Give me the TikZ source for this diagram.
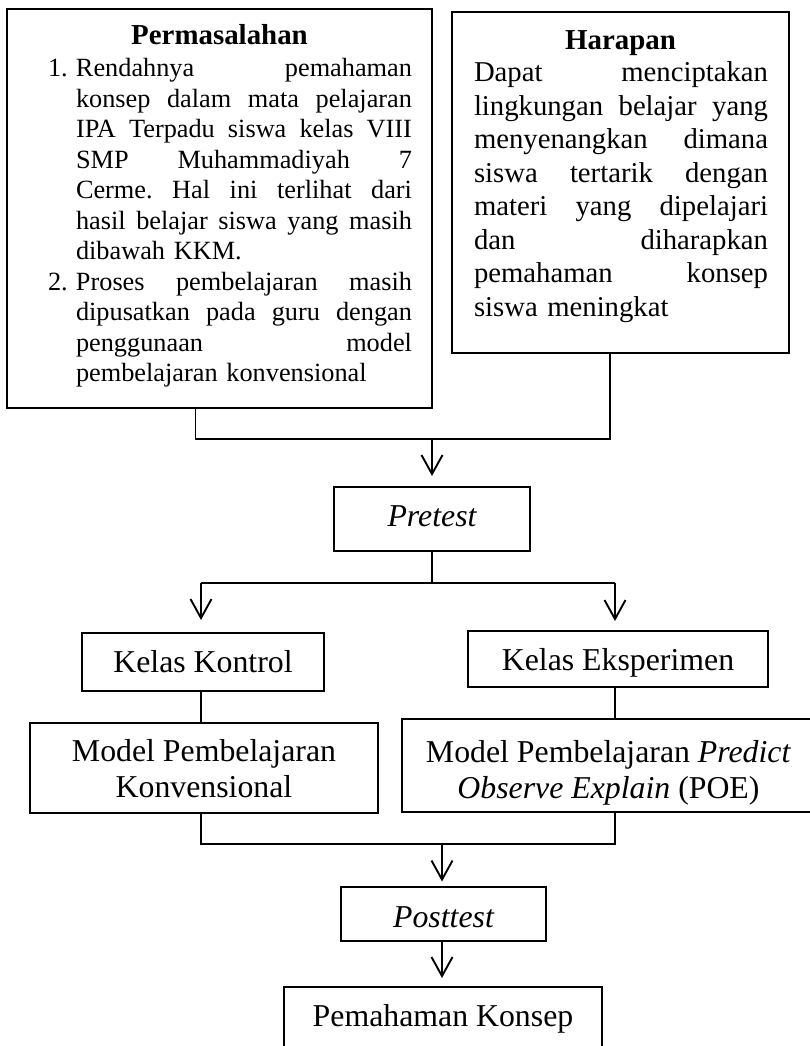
\documentclass[tikz,border=0pt]{standalone}
\usepackage{fontspec}
\setmainfont{Liberation Serif}
\usetikzlibrary{arrows.meta}
\frenchspacing
\newcommand{\fsBody}{\fontsize{26.3}{30.5}\selectfont}
\newcommand{\fsHar}{\fontsize{28.7}{33.5}\selectfont}
\newcommand{\fsTitle}{\fontsize{28.9}{33}\selectfont\bfseries}
\newcommand{\fsLow}{\fontsize{31.8}{36}\selectfont}
\newcommand{\jl}[1]{\leavevmode\hbox to 336pt{\spaceskip=0.25em plus 1fil\relax #1}}
\newcommand{\jh}[1]{\leavevmode\hbox to 294pt{\spaceskip=0.25em plus 1fil\relax #1}}
\newcommand{\ind}{\hspace*{28pt}}
\newcommand{\itemnum}[1]{\makebox[28pt][l]{#1}}
\begin{document}
\begin{tikzpicture}[x=1pt,y=-1pt,
  box/.style={draw=black, line width=1.7pt, rectangle, inner sep=0pt, outer sep=0pt},
  conn/.style={draw=black, line width=1.9pt},
  arr/.style={conn, -{Straight Barb[length=19pt,width=21pt]}},
  low/.style={font=\fsLow, align=center},
  txt/.style={inner sep=0pt, outer sep=0pt}]
\fill[white] (0,0) rectangle (810,1046);
\useasboundingbox (0,0) rectangle (810,1046);

% top boxes
\node[box, minimum width=425pt, minimum height=399pt] (perm) at (219.5,208.5) {};
\node[box, minimum width=337pt, minimum height=341pt] (harp) at (620.5,182.2) {};
\node[txt, font=\fsTitle, anchor=base] (permtitle) at (219.5,45) {Permasalahan};
\node[txt, font=\fsTitle, anchor=base] (harptitle) at (620.5,50) {Harapan};
\node[txt, font=\fsBody, anchor=base west, text width=364pt, align=left] (permlist) at (48,77) {%
\itemnum{1.}\jl{Rendahnya pemahaman}\\
\ind\jl{konsep dalam mata pelajaran}\\
\ind\jl{IPA Terpadu siswa kelas VIII}\\
\ind\jl{SMP Muhammadiyah 7}\\
\ind\jl{Cerme. Hal ini terlihat dari}\\
\ind\jl{hasil belajar siswa yang masih}\\
\ind dibawah KKM.\\
\itemnum{2.}\jl{Proses pembelajaran masih}\\
\ind\jl{dipusatkan pada guru dengan}\\
\ind\jl{penggunaan model}\\
\ind pembelajaran konvensional};
\node[txt, font=\fsHar, anchor=base west, text width=294pt, align=left] (harptext) at (474,82) {%
\jh{Dapat menciptakan}\\
\jh{lingkungan belajar yang}\\
\jh{menyenangkan dimana}\\
\jh{siswa tertarik dengan}\\
\jh{materi yang dipelajari}\\
\jh{dan diharapkan}\\
\jh{pemahaman konsep}\\
siswa meningkat};

% lower boxes
\node[box, low, font=\fsLow\itshape, minimum width=196pt, minimum height=64pt, text height=14pt, text depth=0pt] (pre) at (432,519) {Pretest};
\node[box, low, minimum width=242pt, minimum height=58pt, text height=20pt, text depth=0pt] (kk) at (203,662) {Kelas Kontrol};
\node[box, low, minimum width=300pt, minimum height=56pt, text height=22pt, text depth=0pt] (ke) at (618,659) {Kelas Eksperimen};
\node[box, low, minimum width=348pt, minimum height=90pt] (mk) at (204,768) {\rule{0pt}{24pt}Model Pembelajaran\\Konvensional};
\node[box, low, minimum width=413pt, minimum height=93pt] (poe) at (608.5,765.5) {\rule{0pt}{36pt}Model Pembelajaran \textit{Predict}\\\textit{Observe Explain} (POE)};
\node[box, low, font=\fsLow\itshape, minimum width=205pt, minimum height=54pt, text height=26pt, text depth=0pt] (post) at (443.5,914) {Posttest};
\node[box, low, minimum width=318pt, minimum height=66pt, text height=12pt, text depth=0pt] (pem) at (443,1020) {Pemahaman Konsep};

% connectors
\coordinate (jl) at (195.5,439);
\coordinate (jr) at (610,439);
\coordinate (jm) at (432,439);
\draw[conn] (jl |- perm.south) -- (jl) -- (jr) -- (jr |- harp.south);
\draw[arr, shorten >=11pt] (jm) -- (jm |- pre.north);

\coordinate (bl) at (201,583);
\coordinate (br) at (615,583);
\draw[conn] (pre.south) -- (pre.south |- bl);
\draw[conn] (bl) -- (br);
\draw[arr, shorten >=13pt] (bl) -- (bl |- kk.north);
\draw[arr, shorten >=10pt] (br) -- (br |- ke.north);
\draw[conn] (bl |- kk.south) -- (bl |- mk.north);
\draw[conn] (br |- ke.south) -- (br |- poe.north);

\coordinate (cl) at (201,844);
\coordinate (cr) at (615,844);
\coordinate (cm) at (442,844);
\draw[conn] (cl |- mk.south) -- (cl) -- (cr) -- (cr |- poe.south);
\draw[arr, shorten >=5.5pt] (cm) -- (cm |- post.north);
\draw[arr, shorten >=9pt] (post.south -| cm) -- (cm |- pem.north);
\end{tikzpicture}
\end{document}
